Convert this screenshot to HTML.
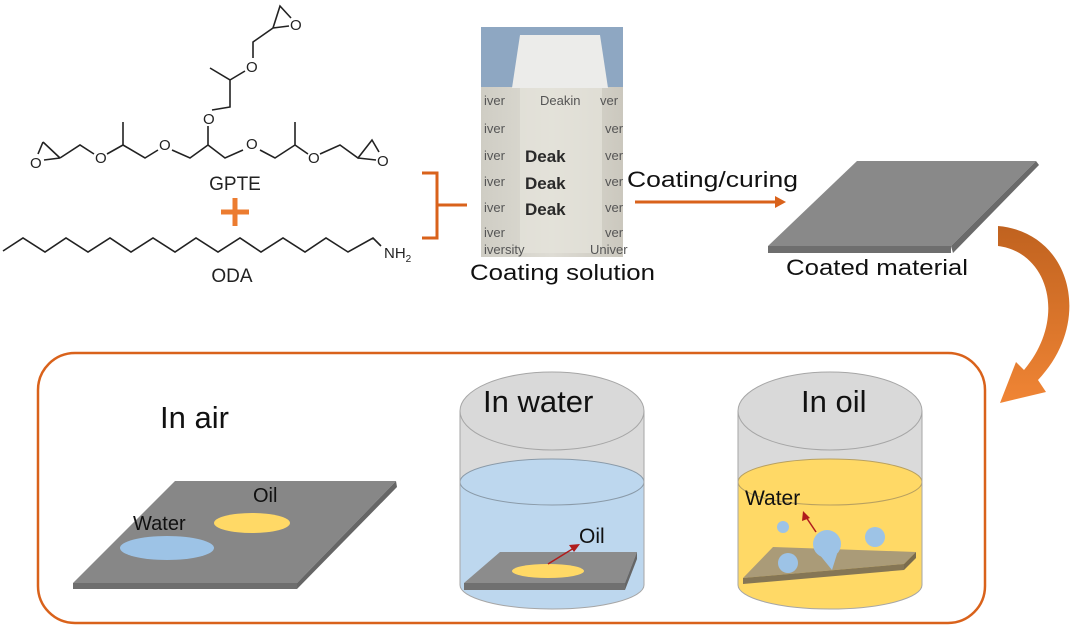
<!DOCTYPE html>
<html><head><meta charset="utf-8"><style>
html,body{margin:0;padding:0;background:#fff;}
svg{display:block;}
text{font-family:"Liberation Sans",sans-serif;}
</style></head><body>
<svg width="1080" height="635" viewBox="0 0 1080 635" xmlns="http://www.w3.org/2000/svg">
<defs>
<linearGradient id="arc" x1="0" y1="0" x2="0" y2="1">
<stop offset="0" stop-color="#c0621f"/><stop offset="1" stop-color="#f08535"/>
</linearGradient>
<linearGradient id="photo" x1="0" y1="0" x2="1" y2="0">
<stop offset="0" stop-color="#cfcdc4"/><stop offset="0.5" stop-color="#dedcd4"/><stop offset="1" stop-color="#cbc8be"/>
</linearGradient>
</defs>

<!-- GPTE -->
<g fill="none" stroke="#222" stroke-width="1.6">
<path d="M43,142 L60,158 M43,142 L38,154 M44,160 L60,158"/>
<path d="M60,158 L80,145 L94,154"/>
<path d="M107,154 L123,145 L123,122 M123,145 L145,158 L158,150"/>
<path d="M172,150 L190,158 L208,145 L208,126 M208,145 L225,158 L243,150"/>
<path d="M260,150 L275,158 L295,145 L295,122 M295,145 L308,154"/>
<path d="M320,154 L340,145 L358,158 L372,140 L379,152 M358,158 L376,160"/>
<path d="M212,110 L230,107 L230,80 L210,68 M230,80 L245,71"/>
<path d="M253,58 L253,42 L273,28 L280,6 L291,18 M273,28 L289,26"/>
</g>
<g font-size="15" fill="#222">
<text x="30" y="168">O</text><text x="95" y="163">O</text><text x="159" y="150">O</text>
<text x="203" y="124">O</text><text x="246" y="149">O</text><text x="308" y="163">O</text>
<text x="377" y="166">O</text><text x="246" y="72">O</text><text x="290" y="30">O</text>
</g>
<text x="235" y="190" font-size="19" fill="#222" text-anchor="middle">GPTE</text>
<path d="M221,212 H249 M235,198 V226" stroke="#ec7c30" stroke-width="5"/>
<polyline fill="none" stroke="#222" stroke-width="1.6" points="3,251 23,238 45,252 66,238 88,252 110,238 131,252 153,238 175,252 196,238 218,252 240,238 261,252 283,238 305,252 326,238 348,252 373,238 381,246"/>
<text x="384" y="258" font-size="15" fill="#222">NH<tspan font-size="10" dy="4">2</tspan></text>
<text x="232" y="282" font-size="19" fill="#222" text-anchor="middle">ODA</text>

<!-- brace -->
<path d="M422,173 H437 V238 H422 M437,205 H467" fill="none" stroke="#d9621b" stroke-width="3"/>

<!-- photo -->
<rect x="481" y="27" width="142" height="230" fill="url(#photo)"/>
<rect x="481" y="27" width="142" height="60" fill="#8ea7c2"/>
<path d="M520,35 H600 L608,88 H512 Z" fill="#ececea"/>
<rect x="520" y="88" width="82" height="165" fill="#e6e4dc" opacity="0.7"/>
<g font-family="Liberation Serif,serif" fill="#555" font-size="13">
<text x="484" y="105">iver</text><text x="540" y="105">Deakin</text><text x="600" y="105">ver</text>
<text x="484" y="133">iver</text><text x="605" y="133">ver</text>
<text x="484" y="160">iver</text><text x="605" y="160">ver</text>
<text x="484" y="186">iver</text><text x="605" y="186">ver</text>
<text x="484" y="212">iver</text><text x="605" y="212">ver</text>
<text x="484" y="237">iver</text><text x="605" y="237">ver</text>
<text x="484" y="254">iversity</text><text x="590" y="254">Univer</text>
</g>
<g font-family="Liberation Serif,serif" fill="#2a2a2a" font-size="17" font-weight="bold">
<text x="525" y="162">Deak</text><text x="525" y="189">Deak</text><text x="525" y="215">Deak</text>
</g>
<text x="470" y="280" font-size="22" fill="#111" textLength="185" lengthAdjust="spacingAndGlyphs">Coating solution</text>

<!-- coating arrow -->
<line x1="635" y1="202" x2="777" y2="202" stroke="#d9621b" stroke-width="3"/>
<path d="M786,202 L775,196 L775,208 Z" fill="#d9621b"/>
<text x="627" y="187" font-size="22" fill="#111" textLength="171" lengthAdjust="spacingAndGlyphs">Coating/curing</text>

<!-- coated plate -->
<polygon points="857,161 1036,161 951,246 768,246" fill="#898989"/>
<polygon points="768,246 951,246 951,253 768,253" fill="#6e6e6e"/>
<polygon points="951,246 1036,161 1039,165 953,253" fill="#6a6a6a"/>
<text x="786" y="275" font-size="22" fill="#111" textLength="182" lengthAdjust="spacingAndGlyphs">Coated material</text>

<!-- curved arrow -->
<path d="M998,226 C1070,232 1095,320 1038,380 L1046,392 L1000,403 L1016,362 L1024,370 C1068,318 1048,252 998,246 Z" fill="url(#arc)"/>

<!-- box -->
<rect x="38" y="353" width="947" height="270" rx="37" fill="none" stroke="#d9621b" stroke-width="2.5"/>

<!-- In air -->
<text x="160" y="428" font-size="31" fill="#111">In air</text>
<polygon points="175,481 396,481 297,583 73,583" fill="#878787"/>
<polygon points="73,583 297,583 297,589 73,589" fill="#6e6e6e"/>
<polygon points="297,583 396,481 397,487 297,589" fill="#666"/>
<ellipse cx="167" cy="548" rx="47" ry="12" fill="#9dc3e6"/>
<ellipse cx="252" cy="523" rx="38" ry="10" fill="#ffd966"/>
<text x="133" y="530" font-size="20" fill="#111">Water</text>
<text x="253" y="502" font-size="20" fill="#111">Oil</text>

<!-- water cylinder -->
<rect x="460" y="411" width="184" height="174" fill="#dadada"/>
<path d="M460,482 V585 A92,24 0 0 0 644,585 V482 Z" fill="#bdd7ee"/>
<ellipse cx="552" cy="482" rx="92" ry="23" fill="#bdd7ee" stroke="#8a9aa8" stroke-width="1"/>
<ellipse cx="552" cy="411" rx="92" ry="39" fill="#d9d9d9" stroke="#a6a6a6" stroke-width="1"/>
<path d="M460,411 V585 A92,24 0 0 0 644,585 V411" fill="none" stroke="#a6a6a6" stroke-width="1"/>
<text x="483" y="412" font-size="31" fill="#111">In water</text>
<polygon points="500,552 637,552 625,583 464,583" fill="#8c8c8c"/>
<polygon points="464,583 625,583 625,590 464,590" fill="#707070"/>
<polygon points="625,583 637,552 637,559 625,590" fill="#666"/>
<ellipse cx="548" cy="571" rx="36" ry="7" fill="#ffd966"/>
<line x1="548" y1="564" x2="574" y2="548" stroke="#b01c1c" stroke-width="1.5"/>
<path d="M580,544 L569,545 L574,552 Z" fill="#b01c1c"/>
<text x="579" y="543" font-size="21" fill="#111">Oil</text>

<!-- oil cylinder -->
<rect x="738" y="411" width="184" height="174" fill="#dadada"/>
<path d="M738,482 V585 A92,24 0 0 0 922,585 V482 Z" fill="#ffd966"/>
<ellipse cx="830" cy="482" rx="92" ry="23" fill="#ffd966" stroke="#b8a060" stroke-width="1"/>
<ellipse cx="830" cy="411" rx="92" ry="39" fill="#d9d9d9" stroke="#a6a6a6" stroke-width="1"/>
<path d="M738,411 V585 A92,24 0 0 0 922,585 V411" fill="none" stroke="#a6a6a6" stroke-width="1"/>
<text x="801" y="412" font-size="31" fill="#111">In oil</text>
<polygon points="773,547 916,552 904,564 743,578" fill="#aa9b78"/>
<polygon points="743,578 904,564 904,570 743,584" fill="#857655"/>
<polygon points="904,564 916,552 916,558 904,570" fill="#7a6c4e"/>
<circle cx="783" cy="527" r="6" fill="#9dc3e6"/>
<circle cx="875" cy="537" r="10" fill="#9dc3e6"/>
<circle cx="788" cy="563" r="10" fill="#9dc3e6"/>
<circle cx="827" cy="544" r="14" fill="#9dc3e6"/>
<path d="M819,554 L832,570 L837,554 Z" fill="#9dc3e6"/>
<line x1="816" y1="532" x2="806" y2="517" stroke="#b01c1c" stroke-width="1.5"/>
<path d="M803,511 L802,521 L810,518 Z" fill="#b01c1c"/>
<text x="745" y="505" font-size="21" fill="#111">Water</text>
</svg>
</body></html>
